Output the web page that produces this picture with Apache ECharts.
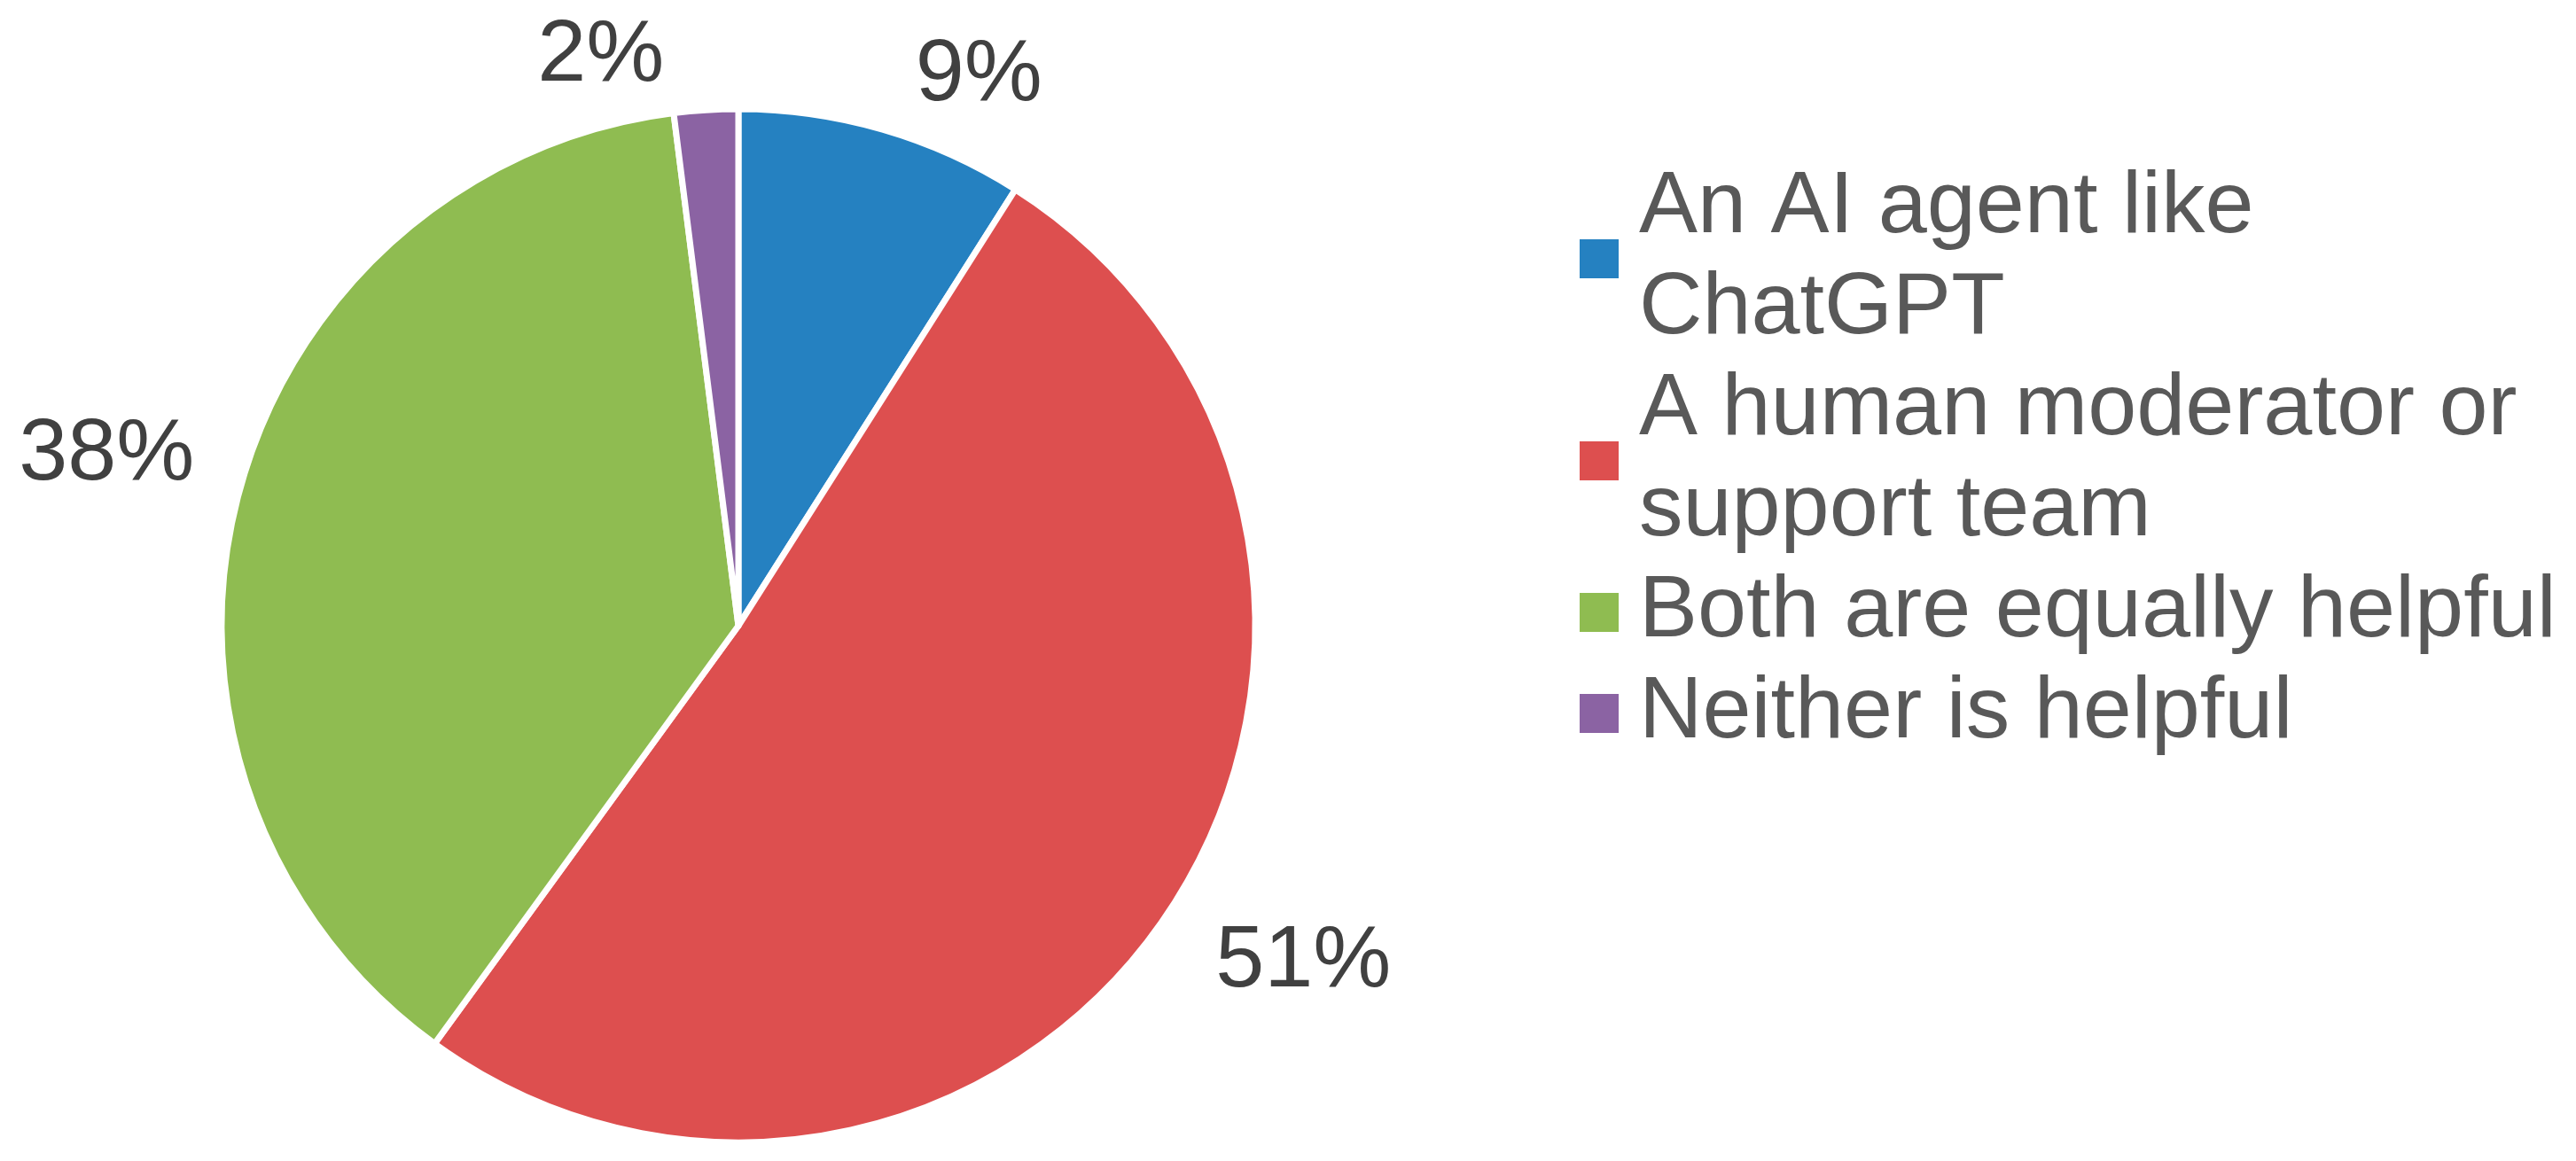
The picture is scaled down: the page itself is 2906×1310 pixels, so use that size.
<!DOCTYPE html>
<html>
<head>
<meta charset="utf-8">
<script src="https://cdn.jsdelivr.net/npm/echarts@6/dist/echarts.min.js"></script>
<style>
html,body{margin:0;padding:0;background:#fff;}
#chart{width:2906px;height:1310px;}
</style>
</head>
<body>
<div id="chart"></div>
<script>
const categories = ["An AI agent like\nChatGPT", "A human moderator or\nsupport team", "Both are equally helpful", "Neither is helpful"];
const values = [9, 51, 38, 2];
const colors = ["#2581C1", "#DD4F4F", "#8FBC51", "#8B63A3"];
const labelNudge = [[32, -60], [51, 52], [-44, -47], [-42, -60]];

const chart = echarts.init(document.getElementById('chart'));
chart.setOption({
  backgroundColor: '#ffffff',
  animation: false,
  legend: {
    orient: 'vertical',
    left: 1775,
    top: 173,
    itemWidth: 46,
    itemHeight: 46,
    itemGap: 0,
    icon: 'rect',
    data: categories,
    textStyle: {
      fontFamily: 'Liberation Sans, Arial, sans-serif',
      fontSize: 99,
      lineHeight: 114,
      color: '#595959',
      padding: [0, 0, 0, 17]
    }
  },
  series: [{
    type: 'pie',
    center: [833, 706],
    radius: 583,
    startAngle: 90,
    clockwise: true,
    avoidLabelOverlap: false,
    data: categories.map((c, i) => ({ name: c, value: values[i], itemStyle: { color: colors[i] } })),
    itemStyle: { borderColor: '#ffffff', borderWidth: 7 },
    label: {
      show: true,
      position: 'outside',
      formatter: p => p.value + '%',
      fontFamily: 'Liberation Sans, Arial, sans-serif',
      fontSize: 99,
      color: '#404040'
    },
    labelLine: { show: false, length: 0, length2: 0 },
    labelLayout: p => ({ dx: labelNudge[p.dataIndex][0], dy: labelNudge[p.dataIndex][1] })
  }]
});
</script>
</body>
</html>
